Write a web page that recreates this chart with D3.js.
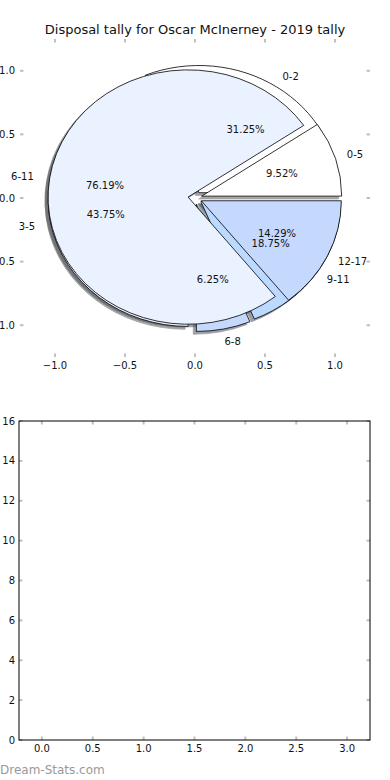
<!DOCTYPE html>
<html>
<head>
  <meta charset="utf-8">
  <title>Disposal tally</title>
  <script src="https://d3js.org/d3.v7.min.js"></script>
  <style>
    body { margin: 0; background: #fff; }
    text { font-family: "DejaVu Sans", sans-serif; fill: #111; }
    .tick-mark { stroke: #c0c0c0; stroke-width: 2px; }
    .wedge { stroke: #000; stroke-width: 0.8px; }
    .spine { fill: none; stroke: #000; stroke-width: 1px; }
  </style>
</head>
<body>
  <svg id="chart" width="390" height="780"></svg>

  <script>
    // data
    const pieALabels = ["0-2", "3-5", "6-8", "9-11"];
    const pieAValues = [5, 7, 1, 3];
    const pieBLabels = ["0-5", "6-11", "12-17"];
    const pieBValues = [2, 16, 3];
    const sliceColours = ["#ffffff", "#eaf1ff", "#c5d9ff", "#bcd9ff"];
    const pieTicks = [-1.0, -0.5, 0.0, 0.5, 1.0];
    const lowerXTicks = [0.0, 0.5, 1.0, 1.5, 2.0, 2.5, 3.0];
    const lowerYTicks = [0, 2, 4, 6, 8, 10, 12, 14, 16];

    const svg = d3.select("svg#chart");
    const width = +svg.attr("width");
    const height = +svg.attr("height");
    svg.append("rect").attr("width", width).attr("height", height).attr("fill", "#fff");

    const explode = 0.05;
    const shadowOff = -0.022;
    const tickLen = 3.5;

    // ---------- top axes: the two pies ----------
    const pie = { left: 20, right: 370, top: 39, bottom: 357 };
    const px = d3.scaleLinear().domain([-1.25, 1.25]).range([pie.left, pie.right]);
    const py = d3.scaleLinear().domain([-1.25, 1.25]).range([pie.bottom, pie.top]);

    svg.append("text")
      .attr("x", (pie.left + pie.right) / 2)
      .attr("y", 34)
      .attr("text-anchor", "middle")
      .style("font-size", "13px")
      .text("Disposal tally for Oscar McInerney - 2019 tally");

    const rad = d => d * Math.PI / 180;

    function wedgePath(cx, cy, t1, t2) {
      const rx = px(1) - px(0);
      const ry = py(0) - py(1);
      const x0 = px(cx), y0 = py(cy);
      const x1 = px(cx + Math.cos(rad(t1))), y1 = py(cy + Math.sin(rad(t1)));
      const x2 = px(cx + Math.cos(rad(t2))), y2 = py(cy + Math.sin(rad(t2)));
      const large = (t2 - t1) > 180 ? 1 : 0;
      return `M${x0},${y0}L${x1},${y1}A${rx},${ry} 0 ${large} 0 ${x2},${y2}Z`;
    }

    // build the wedges like matplotlib's pie (start at 0 deg, counter clockwise)
    function buildWedges(labels, values) {
      const total = d3.sum(values);
      let theta = 0;
      return values.map((v, i) => {
        const frac = v / total;
        const t1 = theta, t2 = theta + 360 * frac;
        theta = t2;
        const mid = rad((t1 + t2) / 2);
        return {
          label: labels[i],
          pct: (100 * frac).toFixed(2) + "%",
          colour: sliceColours[i % sliceColours.length],
          t1: t1, t2: t2, mid: mid,
          cx: explode * Math.cos(mid),
          cy: explode * Math.sin(mid)
        };
      });
    }

    const wedgesA = buildWedges(pieALabels, pieAValues);
    const wedgesB = buildWedges(pieBLabels, pieBValues);
    const allWedges = wedgesA.concat(wedgesB);

    const shadeCol = c => {
      const rgb = d3.rgb(c);
      return d3.rgb(rgb.r * 0.3, rgb.g * 0.3, rgb.b * 0.3).toString();
    };

    // shadows sit under every wedge
    svg.append("g").selectAll("path.shadow").data(allWedges)
      .join("path").attr("class", "shadow")
      .attr("d", d => wedgePath(d.cx + shadowOff, d.cy + shadowOff, d.t1, d.t2))
      .attr("fill", d => shadeCol(d.colour))
      .attr("stroke", d => shadeCol(d.colour))
      .attr("stroke-width", 0.8)
      .attr("opacity", 0.5);

    svg.append("g").selectAll("path.wedge").data(allWedges)
      .join("path").attr("class", "wedge")
      .attr("d", d => wedgePath(d.cx, d.cy, d.t1, d.t2))
      .attr("fill", d => d.colour);

    const texts = svg.append("g");
    texts.selectAll("text.lbl").data(allWedges)
      .join("text").attr("class", "lbl")
      .attr("x", d => px(d.cx + 1.1 * Math.cos(d.mid)) - 2)
      .attr("y", d => py(d.cy + 1.1 * Math.sin(d.mid)))
      .attr("text-anchor", d => (d.cx + 1.1 * Math.cos(d.mid)) > 0 ? "start" : "end")
      .attr("dominant-baseline", "central")
      .style("font-size", "10px")
      .text(d => d.label);

    texts.selectAll("text.pct").data(allWedges)
      .join("text").attr("class", "pct")
      .attr("x", d => px(d.cx + 0.6 * Math.cos(d.mid)))
      .attr("y", d => py(d.cy + 0.6 * Math.sin(d.mid)))
      .attr("text-anchor", "middle")
      .attr("dominant-baseline", "central")
      .style("font-size", "10px")
      .text(d => d.pct);

    // grey inward ticks on all four sides, no frame
    const pieAxes = svg.append("g");
    pieTicks.forEach(t => {
      pieAxes.append("line").attr("class", "tick-mark")
        .attr("x1", px(t)).attr("x2", px(t)).attr("y1", pie.bottom).attr("y2", pie.bottom - tickLen);
      pieAxes.append("line").attr("class", "tick-mark")
        .attr("x1", px(t)).attr("x2", px(t)).attr("y1", pie.top).attr("y2", pie.top + tickLen);
      pieAxes.append("line").attr("class", "tick-mark")
        .attr("y1", py(t)).attr("y2", py(t)).attr("x1", pie.left).attr("x2", pie.left + tickLen);
      pieAxes.append("line").attr("class", "tick-mark")
        .attr("y1", py(t)).attr("y2", py(t)).attr("x1", pie.right).attr("x2", pie.right - tickLen);
    });
    const fmt1 = d => d3.format(".1f")(d).replace("-", "\u2212");
    pieAxes.selectAll("text.xt").data(pieTicks).join("text").attr("class", "xt")
      .attr("x", d => px(d)).attr("y", pie.bottom + 12)
      .attr("text-anchor", "middle").style("font-size", "10px")
      .text(fmt1);
    pieAxes.selectAll("text.yt").data(pieTicks).join("text").attr("class", "yt")
      .attr("x", pie.left - 5).attr("y", d => py(d))
      .attr("text-anchor", "end").attr("dominant-baseline", "central").style("font-size", "10px")
      .text(fmt1);

    // ---------- bottom axes: empty ----------
    const low = { left: 19, right: 370, top: 421, bottom: 740 };
    const lx = d3.scaleLinear().domain([-0.225, 3.225]).range([low.left, low.right]);
    const ly = d3.scaleLinear().domain([0, 16]).range([low.bottom, low.top]);
    const lowAxes = svg.append("g");

    lowerXTicks.forEach(t => {
      lowAxes.append("line").attr("class", "tick-mark")
        .attr("x1", lx(t)).attr("x2", lx(t)).attr("y1", low.bottom).attr("y2", low.bottom - tickLen);
      lowAxes.append("line").attr("class", "tick-mark")
        .attr("x1", lx(t)).attr("x2", lx(t)).attr("y1", low.top).attr("y2", low.top + tickLen);
    });
    lowerYTicks.forEach(t => {
      lowAxes.append("line").attr("class", "tick-mark")
        .attr("y1", ly(t)).attr("y2", ly(t)).attr("x1", low.left).attr("x2", low.left + tickLen);
      lowAxes.append("line").attr("class", "tick-mark")
        .attr("y1", ly(t)).attr("y2", ly(t)).attr("x1", low.right).attr("x2", low.right - tickLen);
    });
    lowAxes.append("rect").attr("class", "spine")
      .attr("x", low.left).attr("y", low.top)
      .attr("width", low.right - low.left).attr("height", low.bottom - low.top);

    lowAxes.selectAll("text.xt").data(lowerXTicks).join("text").attr("class", "xt")
      .attr("x", d => lx(d)).attr("y", low.bottom + 12)
      .attr("text-anchor", "middle").style("font-size", "10px")
      .text(d => d3.format(".1f")(d));
    lowAxes.selectAll("text.yt").data(lowerYTicks).join("text").attr("class", "yt")
      .attr("x", low.left - 4).attr("y", d => ly(d))
      .attr("text-anchor", "end").attr("dominant-baseline", "central").style("font-size", "10px")
      .text(d => d);

    svg.append("text")
      .attr("x", 0).attr("y", 774)
      .style("font-size", "12px")
      .style("fill", "#999")
      .text("Dream-Stats.com");
  </script>
</body>
</html>
